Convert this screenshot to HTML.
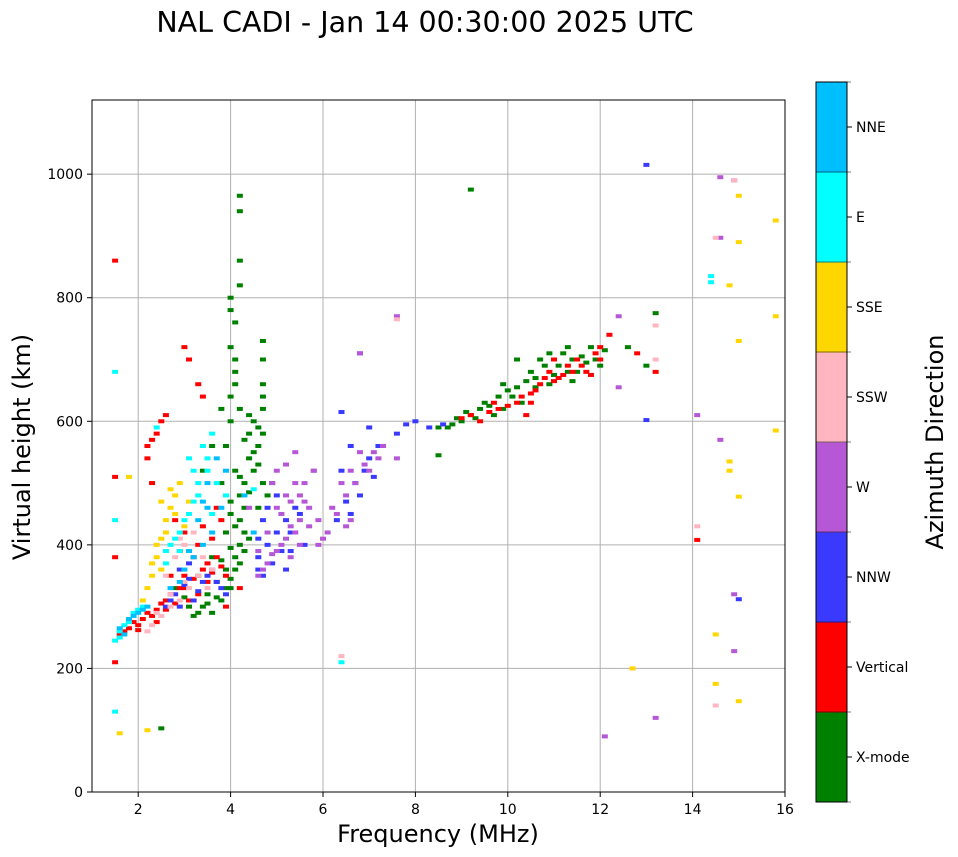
<!DOCTYPE html>
<html><head><meta charset="utf-8"><style>
body{margin:0;background:#fff;}
svg{display:block;font-family:"DejaVu Sans","Liberation Sans",sans-serif;}
</style></head><body>
<svg id="chart" width="958" height="857" viewBox="0 0 958 857" xmlns="http://www.w3.org/2000/svg">
<text x="425" y="32" font-size="28.5" text-anchor="middle">NAL CADI - Jan 14 00:30:00 2025 UTC</text>
<g id="grid"></g>
<g id="marks"></g>
<rect x="92" y="100" width="693" height="692" fill="none" stroke="#000" stroke-width="1"/>
<g id="axes"></g>
<text x="438" y="842" font-size="24" text-anchor="middle">Frequency (MHz)</text>
<text transform="translate(30,447) rotate(-90)" font-size="24" text-anchor="middle">Virtual height (km)</text>
<g id="cbar"></g>
<text transform="translate(943,442) rotate(-90)" font-size="24" text-anchor="middle">Azimuth Direction</text>
</svg>
<script>
const xTicks=[2,4,6,8,10,12,14,16];
const yTicks=[0,200,400,600,800,1000];
const dirNames=["X-mode","Vertical","NNW","W","SSW","SSE","E","NNE"];
const dirColors=["#008000","#ff0000","#3a3aff","#b657d6","#ffb6c1","#ffd700","#00ffff","#00bfff"];
const xmode=[[3.2,285],[3.4,300],[3.5,320],[3.6,290],[3.7,340],[3.8,310],[3.9,360],[4.0,330],[4.1,380],[4.2,400],[4.3,420],[4.0,450],[4.2,480],[4.3,500],[4.1,520],[4.4,540],[4.6,560],[4.7,580],[4.5,600],[4.2,620],[4.0,640],[4.1,680],[4.0,720],[4.1,760],[4.0,800],[4.2,820],[4.2,860],[4.2,940],[4.2,965],[3.9,420],[3.6,380],[3.3,350],[4.6,460],[4.7,500],[4.4,580],[4.7,640],[4.7,700],[3.9,560],[3.8,500],[4.5,520],
[3.1,300],[3.3,290],[3.5,305],[3.7,315],[3.9,330],[4.0,345],[4.1,360],[4.2,370],[4.3,390],[4.4,410],[4.0,395],[3.8,375],[4.1,430],[4.2,440],[4.3,460],[4.0,470],[4.4,485],[4.2,510],[4.6,530],[4.5,550],[4.3,570],[4.6,590],[4.4,610],[4.7,620],[4.0,600],[4.1,660],[4.7,660],[4.7,730],[4.1,700],[4.0,780],[3.8,620],[3.6,560],[3.4,520],[4.8,480],[4.9,500],
[8.5,590],[8.8,595],[9.0,600],[9.2,610],[9.4,620],[9.6,625],[9.8,640],[10.0,650],[10.2,655],[10.4,665],[10.6,670],[10.8,690],[11.0,700],[11.2,710],[11.4,700],[11.6,705],[11.8,720],[12.0,690],[10.9,660],[11.3,680],[9.9,620],[12.6,720],[13.0,690],[13.2,775],
[8.7,590],[8.9,605],[9.1,615],[9.3,605],[9.5,630],[9.7,610],[10.1,640],[10.3,630],[10.5,680],[10.7,700],[10.9,710],[11.1,690],[11.3,720],[11.5,680],[11.7,695],[11.9,700],[12.1,715],[10.6,655],[11.0,675],[11.4,665],[9.9,660],[10.2,700],
[9.2,975],[8.5,545],[2.5,103],[3.0,315],[2.8,330]];
const vertical=[[1.6,255],[1.8,265],[2.0,270],[2.1,280],[2.2,290],[2.4,295],[2.5,305],[2.6,310],[2.7,320],[2.9,330],[3.0,350],[3.2,345],[3.4,360],[3.5,370],[3.7,380],[3.3,400],[3.0,420],[2.8,440],[3.6,410],[3.9,350],[2.2,560],[2.5,600],[3.0,720],[3.3,660],[1.5,860],[1.5,210],[1.5,380],[1.5,510],
[1.7,260],[1.9,275],[2.0,262],[2.3,285],[2.4,275],[2.6,295],[2.8,305],[3.0,330],[3.1,310],[3.3,320],[3.5,340],[3.6,355],[3.8,365],[3.2,380],[3.4,430],[2.9,390],[3.7,460],[2.7,350],[2.3,570],[2.4,580],[2.6,610],[3.4,640],[3.1,700],[2.2,540],[4.2,330],[3.9,300],
[9.0,605],[9.4,600],[9.8,620],[10.2,630],[10.5,645],[10.7,660],[10.9,680],[11.1,670],[11.3,690],[11.5,700],[11.7,680],[12.0,720],[12.2,740],[10.4,610],
[9.2,610],[9.6,615],[10.0,625],[10.3,640],[10.6,650],[10.8,670],[11.0,665],[11.2,675],[11.4,680],[11.6,690],[11.8,675],[12.0,700],[10.5,630],[11.0,700],[11.9,710],[9.7,630],
[12.8,710],[14.1,408],[13.2,680],[2.3,500],[3.8,440]];
const nnw=[[2.6,300],[2.8,320],[3.0,335],[3.2,310],[3.4,340],[3.6,360],[3.8,330],[3.1,370],[4.6,380],[4.8,400],[5.0,420],[5.2,440],[5.4,460],[5.0,480],[4.7,440],[5.3,390],
[2.7,310],[2.9,300],[3.1,345],[3.3,325],[3.5,350],[3.7,340],[3.9,320],[2.9,360],[4.6,410],[4.9,370],[5.1,390],[5.3,420],[5.5,450],[4.8,460],[5.6,400],[4.7,350],[5.2,360],
[6.3,440],[6.5,470],[6.7,500],[6.9,520],[7.0,540],[7.2,560],[7.0,590],[6.4,520],[6.6,450],[6.8,480],[7.1,510],[6.6,560],
[7.6,580],[7.8,595],[8.0,600],[8.3,590],[8.6,595],[6.4,615],[6.8,710],[13.0,1015],[13.0,602],[15.0,312],[4.6,360]];
const wdir=[[4.6,350],[4.8,370],[5.0,390],[5.2,410],[5.4,420],[5.1,450],[5.3,470],[5.5,480],[5.6,500],[5.2,530],[5.4,550],[4.9,500],[5.7,430],[5.9,400],[6.1,420],[6.3,450],[6.5,480],[6.7,500],[6.9,530],[7.1,550],[7.3,560],[6.6,440],[7.6,540],
[4.7,360],[4.9,385],[5.1,400],[5.3,430],[5.5,440],[5.0,460],[5.2,480],[5.4,500],[5.6,470],[5.0,520],[4.8,420],[5.3,380],[5.5,400],[5.7,460],[5.8,520],[6.0,410],[6.2,460],[6.4,500],[6.6,520],[6.8,550],[7.0,520],[7.2,540],[6.5,430],[4.6,390],[5.9,440],
[7.6,770],[6.8,710],[12.4,770],[12.4,655],[14.1,610],[14.6,570],[14.9,320],[14.9,228],[12.1,90],[13.2,120],[14.6,897],[14.6,995],[14.9,990],[4.4,460],[5.8,520]];
const ssw=[[2.5,285],[2.7,300],[2.9,310],[3.1,330],[3.3,350],[2.8,380],[3.0,400],[3.2,420],[2.6,350],[3.5,330],[2.3,270],[2.4,290],[2.7,320],[3.0,340],[3.4,380],[2.9,410],[3.6,360],[2.2,260],
[6.4,220],[13.2,755],[13.2,700],[12.7,200],[14.1,430],[14.5,897],[14.9,990],[7.6,765],[14.5,140]];
const sse=[[2.3,350],[2.4,380],[2.5,410],[2.6,440],[2.7,460],[2.8,480],[2.9,500],[2.5,470],[2.2,330],[3.0,430],[2.4,400],[2.6,420],[2.8,450],[2.3,370],[2.7,490],[2.5,360],[3.1,470],[2.1,310],
[1.8,510],[1.6,95],[14.5,255],[14.5,175],[14.8,820],[14.8,535],[14.8,520],[15.0,965],[15.0,890],[15.0,730],[15.0,478],[15.0,147],[15.8,925],[15.8,770],[15.8,585],[12.7,200],[2.2,100]];
const edir=[[1.5,245],[1.6,260],[1.8,275],[1.9,290],[2.0,295],[2.6,390],[2.8,410],[3.0,440],[3.2,470],[3.3,500],[3.5,520],[3.4,560],[3.1,540],[2.9,390],[3.6,450],
[1.6,250],[1.7,270],[2.1,300],[2.7,400],[2.9,420],[3.1,450],[3.3,480],[3.5,540],[3.7,500],[3.2,520],[2.6,370],[3.9,480],[3.6,580],
[1.5,680],[1.5,440],[1.5,130],[6.4,210],[14.4,835],[14.4,825],[2.4,590],[4.5,490]];
const nne=[[1.6,265],[1.8,280],[2.0,290],[2.2,300],[3.0,360],[3.2,380],[3.4,400],[3.6,420],[3.8,460],[3.5,500],[3.7,540],[3.3,440],[2.7,330],[4.5,420],[1.7,255],[1.9,285],[2.1,295],[2.9,340],[3.1,390],[3.5,460],[3.9,520],[4.3,480],[3.4,470]];
const series=[xmode,vertical,nnw,wdir,ssw,sse,edir,nne];

const X0=92,X1=785,Y0=792,Y1=100,F0=1,F1=16,H0=0,H1=1120;
function xs(f){return X0+(f-F0)/(F1-F0)*(X1-X0);}
function ys(h){return Y0-(h-H0)/(H1-H0)*(Y0-Y1);}
const NS="http://www.w3.org/2000/svg";
function mk(tag,attrs,parent){const e=document.createElementNS(NS,tag);for(const k in attrs)e.setAttribute(k,attrs[k]);parent.appendChild(e);return e;}
const grid=document.getElementById('grid'),axes=document.getElementById('axes'),marks=document.getElementById('marks'),cbar=document.getElementById('cbar');
xTicks.forEach(t=>{const x=xs(t);
 const g=mk('line',{x1:x,x2:x,y1:Y1,y2:Y0,stroke:'#b0b0b0','stroke-width':1},grid);
 
 
 mk('line',{x1:x,x2:x,y1:Y0,y2:Y0+5,stroke:'#000'},axes);
 const tx=mk('text',{x:x,y:Y0+22,'font-size':14,'text-anchor':'middle'},axes);tx.textContent=t;
 
 });
yTicks.forEach(t=>{const y=ys(t);
 const g=mk('line',{x1:X0,x2:X1,y1:y,y2:y,stroke:'#b0b0b0','stroke-width':1},grid);
 
 
 mk('line',{x1:X0-5,x2:X0,y1:y,y2:y,stroke:'#000'},axes);
 const tx=mk('text',{x:X0-9,y:y+5,'font-size':14,'text-anchor':'end'},axes);tx.textContent=t;
 
 });
series.forEach((pts,i)=>{pts.forEach(p=>{
 const r=mk('rect',{x:xs(p[0])-3,y:ys(p[1])-2,width:6,height:4,fill:dirColors[i]},marks);
 
 });});
const CX=816,CW=31,CT=82,CB=802,seg=(CB-CT)/dirNames.length;
dirNames.forEach((n,i)=>{const yb=CB-(i+1)*seg;
 const r=mk('rect',{x:CX,y:yb,width:CW,height:seg+0.5,fill:dirColors[i]},cbar);
 
 
 const yc=yb+seg/2;
 mk('line',{x1:CX+CW,x2:CX+CW+5,y1:yc,y2:yc,stroke:'#000'},cbar);
 const t=mk('text',{x:CX+CW+9,y:yc+5,'font-size':14},cbar);t.textContent=n;
 
 });
for(let i=0;i<=dirNames.length;i++){const y=CB-i*seg;mk('line',{x1:CX,x2:CX+CW+4,y1:y,y2:y,stroke:'#000','stroke-width':0.6},cbar);}
mk('rect',{x:CX,y:CT,width:CW,height:CB-CT,fill:'none',stroke:'#000','stroke-width':1},cbar);
</script>
</body></html>
